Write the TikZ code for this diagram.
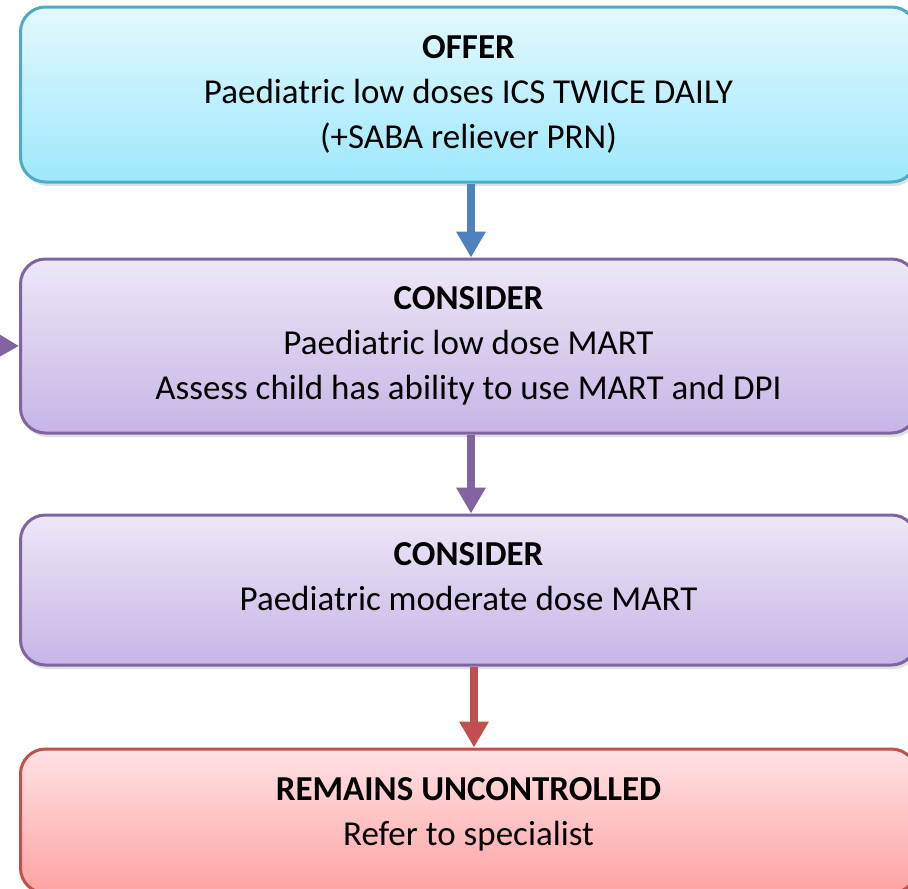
\documentclass[tikz,border=0pt]{standalone}
\usepackage{fontspec}
\setmainfont{Carlito}
\usetikzlibrary{arrows.meta,positioning,shadows}
\definecolor{aqualine}{HTML}{4BACC6}
\definecolor{aquatop}{HTML}{E4F9FE}
\definecolor{aquabot}{HTML}{9DE8FC}
\definecolor{violine}{HTML}{8064A2}
\definecolor{viotop}{HTML}{EEE7F7}
\definecolor{viobot}{HTML}{C6B5E6}
\definecolor{redline}{HTML}{C0504D}
\definecolor{redtop}{HTML}{FFE2E4}
\definecolor{redbot}{HTML}{FFA3A3}
\definecolor{bluearrow}{HTML}{4F81BD}
\begin{document}
\begin{tikzpicture}[x=1pt,y=-1pt,
  box/.style={rounded corners=25pt,line width=3pt,align=center,minimum width=896pt,
    font=\fontsize{35}{45}\selectfont,drop shadow={shadow xshift=2pt,shadow yshift=-4pt,opacity=0.25}},
  flowarrow/.style={line width=8pt,-{Triangle[width=28pt,length=26pt]}}]
\useasboundingbox (0,0) rectangle (908,889);
\clip (0,0) rectangle (908,889);
\node[box,draw=aqualine,top color=aquatop,bottom color=aquabot,minimum height=175pt] (offer) at (468.5,94.5)
  {\textbf{OFFER}\\Paediatric low doses ICS TWICE DAILY\\(+SABA reliever PRN)};
\node[box,draw=violine,top color=viotop,bottom color=viobot,minimum height=174pt,below=74pt of offer] (mart)
  {\textbf{CONSIDER}\\Paediatric low dose MART\\Assess child has ability to use MART and DPI};
\node[box,draw=violine,top color=viotop,bottom color=viobot,minimum height=150pt,below=79pt of mart] (moderate)
  {\textbf{CONSIDER}\\Paediatric moderate dose MART\\[-18pt]};
\node[box,draw=redline,top color=redtop,bottom color=redbot,minimum height=144pt,below=81pt of moderate] (refer)
  {\textbf{REMAINS UNCONTROLLED}\\Refer to specialist\\[-26pt]};
\coordinate (prev) at (-40,345);
\draw[flowarrow,bluearrow] ([xshift=2.5pt]offer.south) -- ([xshift=2.5pt]mart.north);
\draw[flowarrow,violine] ([xshift=2.5pt]mart.south) -- ([xshift=2.5pt]moderate.north);
\draw[flowarrow,redline] ([xshift=5.5pt]moderate.south) -- ([xshift=5.5pt]refer.north);
\draw[flowarrow,violine] (prev) -- (mart.west);
\end{tikzpicture}
\end{document}
